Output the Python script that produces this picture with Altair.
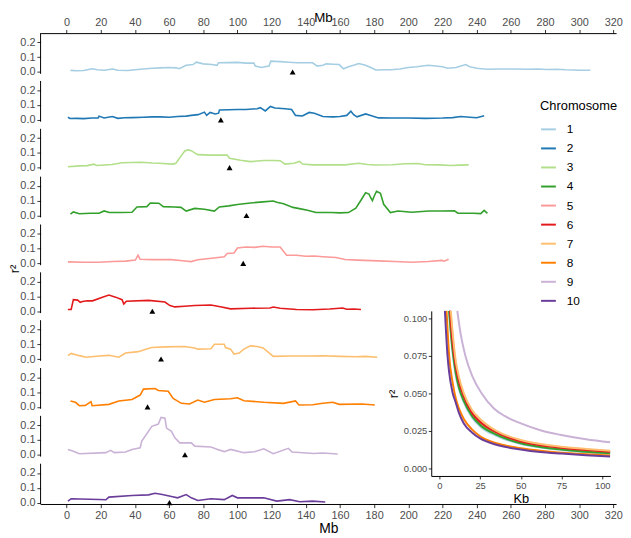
import altair as alt
import pandas as pd

chromosomes = [str(i) for i in range(1, 11)]
palette = ["#A6CEE3", "#1F78B4", "#B2DF8A", "#33A02C", "#FB9A99",
           "#E31A1C", "#FDBF6F", "#FF7F00", "#CAB2D6", "#6A3D9A"]

# (Mb, r2)
chr1 = [(2.3,.011),(6,.008),(10,.010),(15,.022),(18,.015),(22,.012),(27,.020),(30,.012),(36,.010),(40,.015),
        (45,.020),(50,.025),(55,.028),(60,.030),(64,.028),(66,.022),(70,.046),(74,.050),(76,.066),(80,.055),
        (85,.050),(88,.045),(89,.062),(95,.063),(100,.065),(105,.060),(109.6,.060),(110.5,.040),(114,.030),
        (116,.035),(118.5,.040),(119.5,.073),(125,.070),(130,.066),(135,.062),(144,.062),(146.7,.040),(150,.045),
        (152,.055),(156,.052),(159.6,.050),(162,.022),(165,.035),(168,.045),(171,.057),(175,.045),(178,.030),
        (181,.013),(186,.015),(190,.015),(195,.020),(200,.030),(205,.035),(211.6,.045),(216,.040),(220,.035),
        (223,.025),(228,.030),(233.5,.050),(236,.035),(240,.025),(246,.018),(252,.020),(257.7,.020),(263,.020),
        (270,.018),(276,.020),(281,.017),(287,.018),(292,.015),(297,.014),(300,.012),(306.5,.012)]
chr2 = [(0.8,.019),(2,.009),(6,.010),(10,.008),(15,.012),(18.5,.012),(19,.025),(22,.012),(26.8,.022),(30,.010),
        (34,.014),(38.5,.015),(45,.018),(50,.020),(55,.020),(60,.018),(65,.022),(70,.025),(73,.030),(77,.035),
        (80.7,.052),(82,.030),(84,.050),(87,.040),(89,.045),(89.5,.067),(95,.068),(100,.070),(105,.070),
        (111.5,.075),(113.4,.082),(116.3,.060),(119.3,.090),(122,.080),(128,.075),(131.7,.070),(134,.030),
        (138,.026),(142,.050),(145,.045),(150,.022),(156,.020),(160,.022),(164,.030),(166.4,.058),(168,.035),
        (170,.020),(175,.040),(178,.030),(182.6,.013),(190,.012),(200,.012),(210,.010),(220,.012),(226,.015),
        (230.6,.022),(236,.018),(240,.014),(244.4,.028)]
chr3 = [(0.8,.006),(7.5,.012),(12,.014),(16,.024),(17.5,.015),(22,.018),(26.6,.022),(32.5,.033),(38,.035),
        (44,.037),(50,.032),(54,.030),(62.4,.024),(64,.030),(66.3,.068),(69.2,.113),(71,.120),(73,.115),(75,.100),
        (76.8,.088),(84.3,.085),(94,.085),(95.4,.064),(101.8,.050),(107.5,.041),(115.5,.048),(121,.048),(125,.047),
        (127.8,.024),(133,.030),(136.5,.042),(138,.025),(144,.019),(150,.020),(158,.019),(163,.019),(171,.030),
        (176,.022),(181,.018),(190.6,.020),(198,.026),(205.7,.028),(210,.020),(218,.019),(225,.015),(230,.017),
        (235.3,.019)]
chr4 = [(2.3,.009),(4,.024),(7.5,.012),(14,.015),(19,.015),(22,.031),(25,.020),(32,.020),(38.3,.022),(41.2,.058),
        (47,.060),(49,.085),(54,.083),(56.6,.060),(63,.057),(67,.055),(70,.030),(75,.048),(80.7,.042),(86.5,.030),
        (89.4,.058),(95,.065),(100,.075),(107.6,.085),(115,.092),(121,.098),(123,.090),(127,.080),(132.5,.055),
        (137,.045),(141,.036),(146,.020),(155,.020),(160,.018),(165,.020),(169.3,.050),(172,.098),(175,.154),
        (177,.145),(178,.120),(179,.100),(180,.130),(181.4,.164),(183.7,.150),(185.6,.076),(189.5,.020),(194,.030),
        (202,.022),(212,.030),(220,.030),(227,.032),(229,.016),(238,.015),(242.4,.013),(244.4,.035),(246.3,.015)]
chr5 = [(0.8,.010),(10,.008),(19,.008),(27,.012),(34.5,.015),(40.3,.022),(41.8,.055),(43,.028),(50,.025),(61,.025),
        (68,.018),(72.9,.012),(76.8,.025),(85,.035),(92.3,.044),(94,.066),(98,.070),(100,.104),(105,.110),
        (110,.108),(115,.115),(120,.110),(125,.110),(128.8,.055),(134.6,.055),(140,.048),(145,.050),(150,.045),
        (157.7,.039),(163,.026),(170,.022),(182.6,.017),(192,.012),(202,.008),(211.6,.013),(219.8,.020),(221,.015),
        (223.6,.028)]
chr6 = [(0.8,.011),(2.7,.012),(4,.078),(6.5,.075),(8,.060),(9.4,.065),(12,.070),(15.2,.070),(21,.095),(24.8,.109),
        (28.7,.095),(32.5,.078),(33.5,.049),(35,.067),(48,.073),(57.6,.062),(60.5,.038),(63.4,.029),(69,.033),
        (75,.038),(84.5,.042),(90,.030),(96,.016),(107.6,.020),(119,.022),(121,.028),(125,.020),(134.6,.011),
        (144,.010),(154,.015),(161.6,.022),(164,.013),(168,.015),(172.3,.011)]
chr7 = [(0.8,.023),(2.7,.038),(7.5,.023),(11.4,.012),(19,.020),(24.8,.025),(30.6,.012),(34.5,.041),(42,.050),
        (46,.065),(49.8,.078),(57.6,.082),(69,.085),(75,.075),(76.8,.067),(84.5,.070),(86.5,.100),(92.3,.100),
        (93,.078),(96,.067),(98,.034),(101,.040),(103.8,.067),(107.6,.089),(111.5,.085),(115,.075),(121,.018),
        (130.6,.020),(141.7,.020),(150,.022),(160,.018),(169.3,.016),(175,.018),(181.8,.012)]
chr8 = [(2.3,.040),(5.2,.031),(7.5,.008),(11,.010),(14.3,.035),(15,.008),(24.8,.017),(30.6,.040),(38.3,.050),
        (43.1,.080),(45,.120),(51.8,.124),(53.7,.111),(59.5,.106),(62.4,.057),(67.2,.024),(72,.020),(76.8,.046),
        (80.7,.031),(86.5,.050),(96,.055),(100,.062),(103.8,.042),(115.4,.031),(127,.024),(134,.040),(136,.013),
        (144,.015),(150,.025),(155.8,.031),(159.6,.017),(173,.020),(180.4,.013)]
chr9 = [(0.8,.036),(3.6,.025),(7.5,.007),(23,.014),(25.8,.030),(28,.014),(34.5,.018),(38.3,.036),(43.1,.047),
        (44,.092),(46,.125),(49.9,.192),(53.7,.207),(55.3,.252),(57.6,.247),(58.5,.180),(61.4,.158),(63.4,.114),
        (66.3,.080),(73,.080),(75,.058),(84.5,.052),(88.4,.036),(92.3,.021),(96,.036),(103.8,.014),(110,.020),
        (115.4,.040),(121,.007),(129.8,.043),(132,.018),(144.6,.008),(150,.012),(158.7,.005)]
chr10 = [(0.8,.010),(2.7,.026),(19,.021),(23,.019),(24.8,.037),(38.3,.048),(48,.052),(51.8,.063),(56,.055),
         (61.4,.041),(65,.032),(70,.054),(73,.032),(76.8,.014),(84.5,.026),(92.3,.020),(97,.048),(100,.032),
         (115.4,.032),(123,.010),(130.6,.020),(136.5,.006),(144,.010),(151.4,.004)]
main_series = [chr1, chr2, chr3, chr4, chr5, chr6, chr7, chr8, chr9, chr10]

centromere_mb = [132.3, 90.3, 95.4, 105.3, 103.4, 50.2, 55.3, 47.4, 69.3, 60.2]

# inset LD decay (Kb, r2)
inset1 = [(5.8,.105),(8,.078),(10,.062),(12,.053),(15,.044),(20,.034),(25,.028),(35,.0218),(50,.0163),(62,.014),(75,.0123),(90,.0108),(104.8,.0098)]
inset2 = [(6.3,.105),(8,.083),(10,.067),(12,.057),(15,.047),(20,.0365),(25,.0305),(35,.0235),(50,.0177),(62,.0152),(75,.0135),(90,.012),(104.8,.0109)]
inset3 = [(6.2,.105),(8,.082),(10,.066),(12,.056),(15,.046),(20,.036),(25,.030),(35,.023),(50,.0173),(62,.0148),(75,.0132),(90,.0117),(104.8,.0106)]
inset4 = [(6.0,.105),(8,.080),(10,.064),(12,.054),(15,.045),(20,.035),(25,.029),(35,.0225),(50,.0168),(62,.0143),(75,.0127),(90,.0112),(104.8,.0102)]
inset5 = [(6.8,.105),(8,.089),(10,.070),(12,.059),(15,.049),(20,.038),(25,.032),(35,.0245),(50,.0185),(62,.016),(75,.0142),(90,.0127),(104.8,.0115)]
inset6 = [(6.5,.105),(8,.085),(10,.068),(12,.058),(15,.048),(20,.037),(25,.031),(35,.024),(50,.018),(62,.0155),(75,.0138),(90,.0123),(104.8,.0112)]
inset7 = [(7.0,.105),(8,.092),(10,.072),(12,.061),(15,.050),(20,.039),(25,.033),(35,.025),(50,.019),(62,.0163),(75,.0145),(90,.013),(104.8,.0118)]
inset8 = [(4.4,.105),(6,.075),(8,.058),(10,.047),(12,.040),(15,.033),(20,.026),(25,.0215),(35,.0168),(50,.0135),(62,.0118),(75,.0105),(90,.0095),(104.8,.0087)]
inset9 = [(11.0,.105),(13,.090),(16,.075),(20,.062),(26,.050),(33.5,.040),(40,.035),(50,.030),(62,.0255),(74,.0225),(90,.0195),(104.8,.0175)]
inset10 = [(3.4,.105),(5,.075),(6,.064),(8,.051),(10,.044),(12,.037),(15,.030),(20,.024),(25,.020),(35,.0158),(50,.0127),(62,.0110),(75,.0099),(90,.0088),(104.8,.0079)]
inset_series = [inset1, inset2, inset3, inset4, inset5, inset6, inset7, inset8, inset9, inset10]

mb_ticks = list(range(0, 321, 20))
r2_ticks = [0.0, 0.1, 0.2]
kb_ticks = [0, 25, 50, 75, 100]
inset_r2_ticks = [0.0, 0.025, 0.05, 0.075, 0.1]

# ---------------- layout constants ----------------
W, H = 583, 477
PITCH = 0.3231          # vertical distance between panels, in r2 units
PANEL_LO, PANEL_HI = -0.0125, 0.2625
PX_PER_UNIT = 150.0
FONT = "Liberation Sans"

rows = []
for i, pts in enumerate(main_series):
    for mb, r2 in pts:
        rows.append({"chrom": chromosomes[i], "idx": i, "mb": mb, "r2": r2})
main_df = pd.DataFrame(rows)
cen_df = pd.DataFrame({"chrom": chromosomes, "idx": list(range(10)), "mb": centromere_mb})
panel_df = pd.DataFrame({"idx": list(range(10))})
irows = []
for i, pts in enumerate(inset_series):
    for kb, r2 in pts:
        irows.append({"chrom": chromosomes[i], "idx": i, "kb": kb, "ld": r2})
inset_df = pd.DataFrame(irows)

def x_scale():
    return alt.Scale(domain=[-15.2, 321.6], nice=False, zero=False)

def y_scale():
    return alt.Scale(domain=[PANEL_HI - H / PX_PER_UNIT, PANEL_HI], nice=False, zero=False)

color_scale = alt.Scale(domain=chromosomes, range=palette)

y_tick_values = [round(t - PITCH * i, 5) for i in range(10) for t in r2_ticks]
y_label_expr = f"format(abs(datum.value + {PITCH}*round((0.1 - datum.value)/{PITCH})), '.1f')"

axis_common = dict(grid=False, domainColor="black", domainWidth=1, tickColor="#333333", tickWidth=1,
                   tickSize=3.7, labelColor="#4D4D4D", labelFont=FONT, labelFontSize=11,
                   titleFont=FONT, titleFontWeight="normal", titleColor="black", labelPadding=2)

bottom_axis = alt.Axis(orient="bottom", values=mb_ticks, title="Mb", titleFontSize=14,
                       titlePadding=1, labelFlush=False, labelOverlap=False, **axis_common)
top_axis = alt.Axis(orient="top", values=mb_ticks, title="Mb", titleFontSize=13.5,
                    titleX=286, titleY=-12, titleBaseline="alphabetic",
                    labelFlush=False, labelOverlap=False, **axis_common)
left_axis = alt.Axis(orient="left", values=y_tick_values, labelExpr=y_label_expr, domain=False,
                     title="r²", titleFontSize=13, titleX=-22.5, titleY=H / 2,
                     titleAngle=270, titleAlign="center", titleBaseline="alphabetic",
                     labelOverlap=False, **axis_common)

lines = alt.Chart(main_df).mark_line(strokeWidth=1.6).transform_calculate(
    v=f"datum.r2 - {PITCH}*datum.idx"
).encode(
    x=alt.X("mb:Q", scale=x_scale(), axis=bottom_axis),
    y=alt.Y("v:Q", scale=y_scale(), axis=left_axis),
    color=alt.Color("chrom:N", scale=color_scale, sort=chromosomes,
                    legend=alt.Legend(title="Chromosome", orient="none", legendX=506, legendY=68,
                                      titleFont=FONT, titleFontSize=13, titleFontWeight="normal",
                                      titleColor="black", titlePadding=8,
                                      labelFont=FONT, labelFontSize=12, labelColor="black",
                                      symbolType="stroke", symbolSize=225, symbolStrokeWidth=2,
                                      rowPadding=4.3, labelOffset=10, padding=0)),
    detail="chrom:N",
)

panel_rules = alt.Chart(panel_df).mark_rule(color="black", strokeWidth=1).transform_calculate(
    lo=f"{PANEL_LO} - {PITCH}*datum.idx", hi=f"{PANEL_HI} - {PITCH}*datum.idx"
).encode(
    x=alt.value(0),
    y=alt.Y("lo:Q", scale=y_scale(), axis=None),
    y2="hi:Q",
)

tri = alt.Chart(cen_df).mark_point(shape="triangle-up", filled=True, size=36, color="black",
                                   opacity=1).transform_calculate(
    v=f"0 - {PITCH}*datum.idx"
).encode(
    x=alt.X("mb:Q", scale=x_scale(), axis=top_axis),
    y=alt.Y("v:Q", scale=y_scale(), axis=None),
)

# inset position (pixels inside plot area)
IX0, IX1 = 395.75, 577.25
IY0, IY1 = 448.6, 281.4
inset_axis_common = dict(grid=False, domainColor="black", domainWidth=1, tickColor="#333333",
                         tickWidth=1, tickSize=3, labelColor="#4D4D4D", labelFont=FONT,
                         labelFontSize=9.5, titleFont=FONT, titleFontWeight="normal",
                         titleColor="black", titleFontSize=13, labelPadding=1.5)
inset = alt.Chart(inset_df).mark_line(strokeWidth=2, interpolate="monotone").encode(
    x=alt.X("kb:Q", scale=alt.Scale(domain=[-5, 105], range=[IX0, IX1], nice=False, zero=False),
            axis=alt.Axis(orient="bottom", offset=IY0 - H, values=kb_ticks, title="Kb",
                          titlePadding=3, labelFlush=False, **inset_axis_common)),
    y=alt.Y("ld:Q", scale=alt.Scale(domain=[-0.005, 0.105], range=[IY0, IY1], nice=False, zero=False),
            axis=alt.Axis(orient="left", offset=-IX0, values=inset_r2_ticks, format=".3f",
                          title="r²", titlePadding=3, **inset_axis_common)),
    color=alt.Color("chrom:N", scale=color_scale, legend=None),
    detail="chrom:N",
    order="kb:Q",
)

chart = alt.layer(lines, panel_rules, tri, inset).resolve_scale(
    x="independent", y="independent"
).properties(
    width=W, height=H,
    autosize=alt.AutoSizeParams(type="none"),
    padding={"left": 33, "top": 22, "right": 7, "bottom": 31},
    background="white",
).configure_view(stroke=None)

chart.save("out.html", embed_options={"renderer": "svg", "actions": False})
